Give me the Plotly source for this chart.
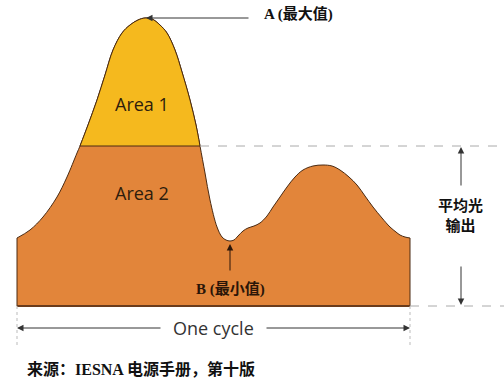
import plotly.graph_objects as go

# Light output over one cycle (time units arbitrary, output relative to zero baseline)
cycle_t = [0, 13, 26, 40, 50, 60, 63, 71, 80, 88, 96, 105, 113, 121, 128, 135, 143, 150, 158, 165,
           173, 179, 183, 188, 193, 200, 205, 209, 213, 217, 221, 226, 231, 237, 243, 250, 256, 263,
           270, 278, 286, 296, 306, 315, 323, 332, 340, 348, 356, 365, 373, 379, 383, 388, 393]
light = [68, 76, 89, 109, 129, 153, 160, 181, 206, 231, 256, 273, 281, 286, 288, 287, 281, 273, 256, 234,
         206, 181, 160, 133, 106, 79, 69, 66, 65, 66, 70, 75, 78, 80, 83, 90, 99, 109,
         119, 129, 136, 140, 141, 140, 136, 129, 121, 110, 99, 88, 79, 74, 71, 69, 68]
avg_output = 160
peak_idx = light.index(max(light))
min_idx = light.index(min(light[20:]))

ORANGE = "#E2853A"
YELLOW = "#F5B91E"
OUTLINE = "#4a2a12"

fig = go.Figure()

# Orange full shape
fig.add_trace(go.Scatter(x=cycle_t, y=light, mode="lines", line=dict(color=OUTLINE, width=1, shape="spline"),
                         fill="tozeroy", fillcolor=ORANGE, hoverinfo="skip"))
# Yellow cap above average
i0 = light.index(avg_output)
i1 = len(light) - 1 - light[::-1].index(avg_output)
fig.add_trace(go.Scatter(x=cycle_t[i0:i1 + 1], y=light[i0:i1 + 1], mode="lines",
                         line=dict(color=OUTLINE, width=1, shape="spline"),
                         fill="toself", fillcolor=YELLOW, hoverinfo="skip"))

t0, t1 = cycle_t[0], cycle_t[-1]
shapes = [
    dict(type="line", x0=cycle_t[i0], x1=cycle_t[i1], y0=avg_output, y1=avg_output, line=dict(color=OUTLINE, width=1)),
    dict(type="line", x0=t0, x1=t0, y0=0, y1=light[0], line=dict(color=OUTLINE, width=1)),
    dict(type="line", x0=t1, x1=t1, y0=0, y1=light[-1], line=dict(color=OUTLINE, width=1)),
    dict(type="line", x0=t0, x1=t1, y0=0, y1=0, line=dict(color="#6a3c1c", width=2)),
    dict(type="line", x0=cycle_t[i1], x1=487, y0=avg_output, y1=avg_output, line=dict(color="#aaaaaa", width=1, dash="dash")),
    dict(type="line", x0=t1, x1=487, y0=0, y1=0, line=dict(color="#aaaaaa", width=1, dash="dash")),
    dict(type="line", x0=t0, x1=t0, y0=0, y1=-40, line=dict(color="#bbbbbb", width=1, dash="dot")),
    dict(type="line", x0=t1, x1=t1, y0=0, y1=-40, line=dict(color="#bbbbbb", width=1, dash="dot")),
]

bold_serif = "Liberation Serif, 'Noto Sans CJK SC', serif"
ann = []
arrow = dict(showarrow=True, arrowhead=2, arrowsize=1.3, arrowwidth=1, arrowcolor="#333333",
             axref="x", ayref="y", text="")
# A arrow
ann.append(dict(x=cycle_t[peak_idx] + 1, y=max(light), ax=233, ay=max(light), **arrow))
ann.append(dict(x=245, y=max(light) + 4, xanchor="left", text="<b>A (最大值)</b>", showarrow=False,
                font=dict(family=bold_serif, size=15, color="#111111")))
# B arrow
ann.append(dict(x=cycle_t[min_idx], y=min(light) - 3, ax=cycle_t[min_idx], ay=34, **{**arrow, "arrowcolor": "#2a1508"}))
ann.append(dict(x=cycle_t[min_idx], y=17, text="<b>B (最小值)</b>", showarrow=False,
                font=dict(family=bold_serif, size=15, color="#2a1508")))
# Average arrows
ann.append(dict(x=444, y=avg_output - 1, ax=444, ay=119, **arrow))
ann.append(dict(x=444, y=1, ax=444, ay=41, **arrow))
ann.append(dict(x=443, y=91, text="<b>平均光<br>输出</b>", showarrow=False,
                font=dict(family=bold_serif, size=15, color="#111111")))
# One cycle
ann.append(dict(x=t0, y=-22, ax=145, ay=-22, **arrow))
ann.append(dict(x=t1, y=-22, ax=248, ay=-22, **arrow))
ann.append(dict(x=196, y=-22, text="One cycle", showarrow=False,
                font=dict(family="Open Sans", size=18, color="#333333")))
# Area labels
ann.append(dict(x=125, y=202, text="Area 1", showarrow=False, font=dict(family="Open Sans", size=18, color="#2e1c0c")))
ann.append(dict(x=125, y=113, text="Area 2", showarrow=False, font=dict(family="Open Sans", size=18, color="#2e1c0c")))
# Source
ann.append(dict(x=8, y=-63, xanchor="left", text="<b>来源：IESNA 电源手册，第十版</b>", showarrow=False,
                font=dict(family=bold_serif, size=16, color="#111111")))

fig.update_layout(
    width=504, height=383, autosize=False, margin=dict(l=0, r=0, t=0, b=0),
    paper_bgcolor="white", plot_bgcolor="white", showlegend=False,
    xaxis=dict(range=[-17, 487], visible=False, fixedrange=True),
    yaxis=dict(range=[-77, 306], visible=False, fixedrange=True),
    shapes=shapes, annotations=ann,
)
fig.write_html("out.html")
